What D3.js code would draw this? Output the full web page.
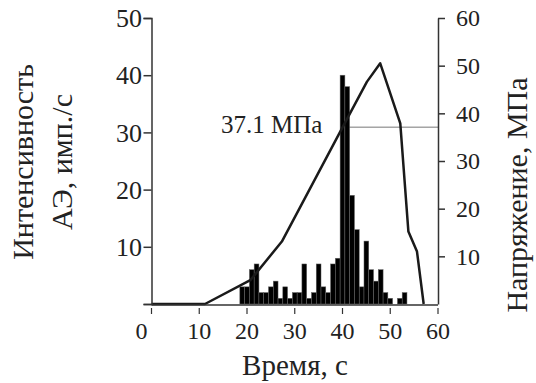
<!DOCTYPE html>
<html>

<head>
    <style>
        body {
            margin: 0;
            background: white;
        }

        svg text {
            font-family: "Liberation Serif", "DejaVu Serif", serif;
            fill: #222;
        }
    </style>
</head>

<body>
    <div id="chart"></div>
    <script src="https://d3js.org/d3.v7.min.js"></script>
    <script>

        // AE intensity per second (left axis)
        const aeTime = [19, 20, 21, 22, 23, 24, 25, 26, 27, 28, 29, 30, 31, 32, 33, 34, 35, 36,
            37, 38, 39, 40, 41, 42, 43, 44, 45, 46, 47, 48, 49, 50, 51, 52, 53]
        const aeCount = [3, 3, 6, 7, 2, 2, 3, 4, 1, 3, 1, 2, 2, 7, 1, 2, 7, 3,
            2, 7, 8, 40, 38, 19, 13, 3, 11, 6, 4, 6, 2, 1, 0, 1, 2]

        // stress curve (right axis)
        const stressTime = [0, 11.2, 20.7, 27.3, 39.5, 45.1, 47.9, 52.1, 53.8, 55.6, 57]
        const stressValue = [0, 0, 5, 13.1, 36.1, 46.6, 50.5, 37.9, 15.2, 11, 0]

        const markTime = 40
        const markStress = 37.1

        const xTicks = [0, 10, 20, 30, 40, 50, 60]
        const leftTicks = [10, 20, 30, 40, 50]
        const rightTicks = [10, 20, 30, 40, 50, 60]

        const width = 536
        const height = 383

        let x = d3.scaleLinear().domain([0, 60]).range([151.5, 438])
        let yL = d3.scaleLinear().domain([0, 50]).range([304, 18])
        let yR = d3.scaleLinear().domain([0, 60]).range([304, 18])

        let svg = d3.select("#chart")
            .append("svg")
            .attr("width", width)
            .attr("height", height)

        // 37.1 MPa marker line
        svg.append("line")
            .attr("x1", x(markTime))
            .attr("x2", x(60))
            .attr("y1", yR(markStress))
            .attr("y2", yR(markStress))
            .attr("stroke", "#777")
            .attr("stroke-width", 1)

        svg.append("g")
            .selectAll("rect")
            .data(aeTime)
            .enter().append("rect")
            .attr("x", (d) => x(d - 0.5))
            .attr("width", x(1) - x(0))
            .attr("y", (d, i) => yL(aeCount[i]))
            .attr("height", (d, i) => yL(0) - yL(aeCount[i]))
            .attr("fill", "#000")
            .attr("stroke", "#666")
            .attr("stroke-width", 0.5)

        let line = d3.line()
            .x((d) => x(d))
            .y((d, i) => yR(stressValue[i]))

        svg.append("path")
            .datum(stressTime)
            .attr("d", line)
            .attr("fill", "none")
            .attr("stroke", "#1a1a1a")
            .attr("stroke-width", 2.5)
            .attr("stroke-linejoin", "round")

        // axes
        let leftAxis = svg.append("g")
            .attr("transform", "translate(" + x(0) + ",0)")
            .call(d3.axisLeft(yL).tickValues([0].concat(leftTicks)).tickSize(8).tickFormat(""))
        leftAxis.selectAll("line, path").attr("stroke", "#333").attr("stroke-width", 1.5)

        let rightAxis = svg.append("g")
            .attr("transform", "translate(" + x(60) + ",0)")
            .call(d3.axisRight(yR).tickValues(rightTicks).tickSize(7).tickSizeOuter(0).tickFormat(""))
        rightAxis.selectAll("line, path").attr("stroke", "#333").attr("stroke-width", 1.5)

        svg.append("line")
            .attr("x1", x(0))
            .attr("x2", x(60))
            .attr("y1", 305)
            .attr("y2", 305)
            .attr("stroke", "#333")
            .attr("stroke-width", 1.5)

        svg.append("g")
            .selectAll("line")
            .data(xTicks)
            .enter().append("line")
            .attr("x1", (d) => x(d))
            .attr("x2", (d) => x(d))
            .attr("y1", 308)
            .attr("y2", 314)
            .attr("stroke", "#333")
            .attr("stroke-width", 1.2)

        // tick labels
        svg.append("g")
            .selectAll("text")
            .data(xTicks)
            .enter().append("text")
            .attr("x", (d) => d === 0 ? x(d) - 10 : x(d))
            .attr("y", 339)
            .attr("text-anchor", "middle")
            .attr("font-size", 24)
            .text((d) => d)

        svg.append("g")
            .selectAll("text")
            .data(leftTicks)
            .enter().append("text")
            .attr("x", 142)
            .attr("y", (d) => yL(d))
            .attr("dy", "0.35em")
            .attr("text-anchor", "end")
            .attr("font-size", 26)
            .text((d) => d)

        svg.append("g")
            .selectAll("text")
            .data(rightTicks)
            .enter().append("text")
            .attr("x", 456)
            .attr("y", (d) => yR(d))
            .attr("dy", "0.35em")
            .attr("font-size", 24)
            .text((d) => d)

        // titles
        svg.append("text")
            .attr("x", 295)
            .attr("y", 375)
            .attr("text-anchor", "middle")
            .attr("font-size", 29)
            .text("Время, с")

        let leftTitle = svg.append("text")
            .attr("transform", "translate(33,162) rotate(-90)")
            .attr("text-anchor", "middle")
            .attr("font-size", 30)
        leftTitle.append("tspan").attr("x", 0).attr("y", 0).text("Интенсивность")
        leftTitle.append("tspan").attr("x", 0).attr("y", 39).text("АЭ, имп./с")

        svg.append("text")
            .attr("transform", "translate(527,195) rotate(-90)")
            .attr("text-anchor", "middle")
            .attr("font-size", 30)
            .text("Напряжение, МПа")

        svg.append("text")
            .attr("x", 221)
            .attr("y", 133)
            .attr("font-size", 25)
            .text(markStress + " МПа")

    </script>
</body>

</html>
